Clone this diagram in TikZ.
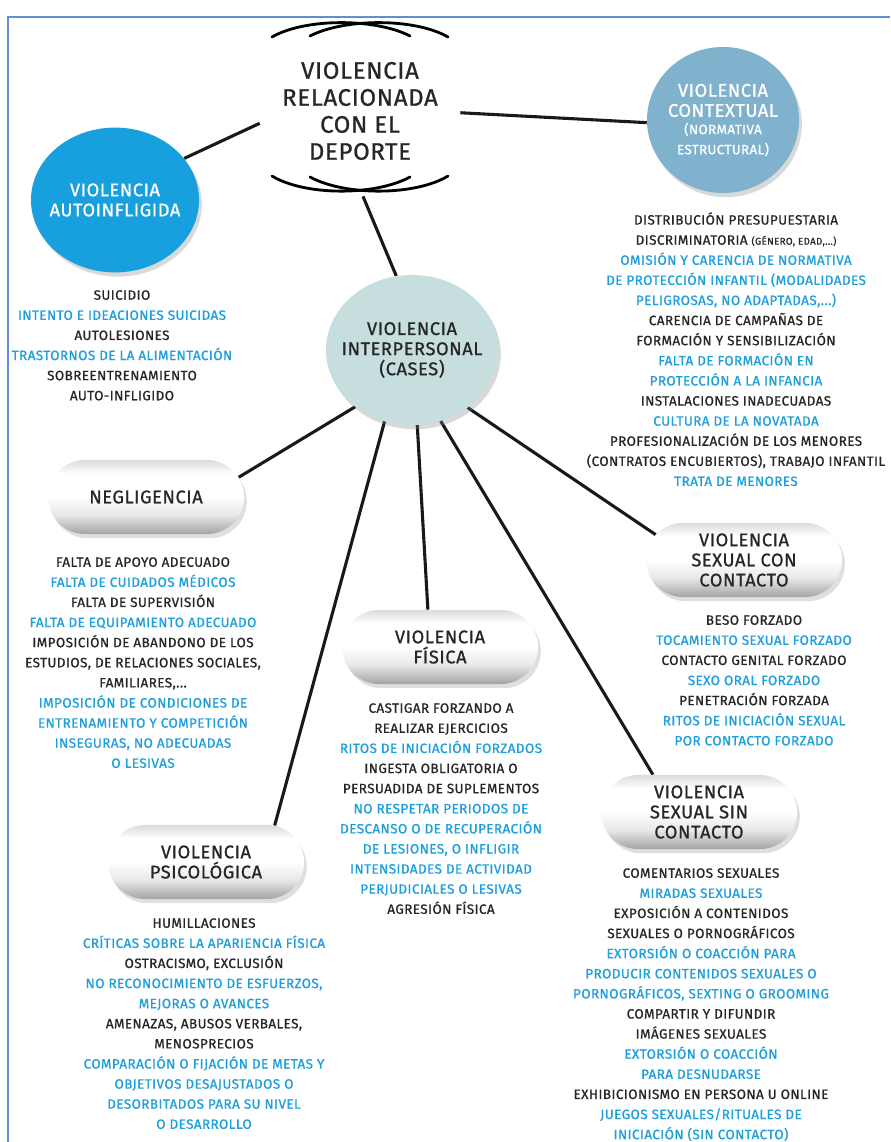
\documentclass[tikz,border=0pt]{standalone}
\usepackage{fontspec}
\setmainfont{Fira Sans}[LetterSpace=3, FakeBold=0.9]
\usepackage{tikz}
\usetikzlibrary{positioning, shapes.geometric, shapes.misc, shadows, calc}
\pgfdeclarelayer{background}
\pgfsetlayers{background,main}
\definecolor{tinta}{RGB}{38,38,38}
\definecolor{azul}{RGB}{30,158,218}
\definecolor{autoazul}{RGB}{24,160,222}
\definecolor{ctxazul}{RGB}{128,178,206}
\definecolor{intergris}{RGB}{198,222,222}
\definecolor{marco}{RGB}{98,142,214}
\newcommand{\az}[1]{\textcolor{azul}{#1}}
\pgfdeclareverticalshading{pildora}{100bp}{color(0bp)=(black!42); color(25bp)=(black!36); color(38bp)=(black!9); color(50bp)=(white); color(66bp)=(white); color(75bp)=(black!14); color(100bp)=(black!14)}
\tikzset{
    pill/.style={rounded rectangle, shading=pildora, minimum width=4.9cm, minimum height=1.85cm,
      inner sep=0pt, align=center, text=tinta, font=\fontsize{13}{14.3}\selectfont,
      drop shadow={shadow xshift=2pt, shadow yshift=-3pt, opacity=0.25}},
    elip/.style={ellipse, inner xsep=-1cm, inner ysep=0pt, align=center, font=\fontsize{13}{14.3}\selectfont,
      drop shadow={shadow xshift=2pt, shadow yshift=-3pt, opacity=0.3}},
    lista/.style={anchor=north, inner sep=0pt, align=center, text=tinta, font=\fontsize{9.6}{14.3}\selectfont},
    enlace/.style={line width=2.2pt, black!90},
    adorno/.style={line width=2pt, line cap=round},
}

\begin{document}
\begin{tikzpicture}[x=0.025cm, y=-0.025cm]
    \useasboundingbox (0,0) rectangle (890,1142);
    \draw[marco, line width=1.2pt] (8,1142) -- (8,17) -- (890,17);

    % cabecera
    \node[minimum width=5cm, minimum height=4.25cm, align=center, text=tinta,
      font=\fontsize{17}{19.2}\selectfont] (tit) at (360,111) {VIOLENCIA\\RELACIONADA\\CON EL\\DEPORTE};
    \draw[adorno] (272,37) .. controls (305,18) and (375,18) .. (410,36);
    \draw[adorno] (310,36) .. controls (345,18) and (415,18) .. (448,37);
    \draw[adorno] (272,176) .. controls (305,196) and (375,196) .. (410,177);
    \draw[adorno] (310,177) .. controls (345,196) and (415,196) .. (448,176);

    \node[elip, fill=autoazul, text=white, minimum width=4.2cm, minimum height=3.62cm] (auto) at (115,200) {VIOLENCIA\\AUTOINFLIGIDA};
    \node[elip, fill=ctxazul, text=white, minimum width=3.8cm, minimum height=3.65cm] (ctx) at (723,120)
      {VIOLENCIA\\CONTEXTUAL\\[-2pt]\fontsize{9.5}{12.5}\selectfont(NORMATIVA\\\fontsize{9.5}{12.5}\selectfont ESTRUCTURAL)};
    \node[elip, fill=intergris, text=tinta, minimum width=4.3cm, minimum height=3.75cm] (inter) at (412,350) {VIOLENCIA\\INTERPERSONAL\\(CASES)};

    \node[pill] (neg) at (146,497) {NEGLIGENCIA};
    \node[pill] (fis) at (440,647) {VIOLENCIA\\FÍSICA};
    \node[pill] (con) at (744,560) {VIOLENCIA\\SEXUAL CON\\CONTACTO};
    \node[pill] (sin) at (699,812) {VIOLENCIA\\SEXUAL SIN\\CONTACTO};
    \node[pill] (psi) at (206,862) {VIOLENCIA\\PSICOLÓGICA};

    \begin{pgfonlayer}{background}
      \draw (tit.187) edge[enlace] (auto.31);
      \draw (tit.-1) edge[enlace] (ctx.182);
      \draw (tit.-88) edge[enlace] (inter.102);
      \draw (inter.225) edge[enlace] (neg.12);
      \draw (inter.249) edge[enlace] (psi.28);
      \draw (inter.274) edge[enlace] (fis.108);
      \draw (inter.292) edge[enlace] (sin.141);
      \draw (inter.314) edge[enlace] (con.164);
    \end{pgfonlayer}

    \node[lista] (lauto) at (122,290) {SUICIDIO\\\az{INTENTO E IDEACIONES SUICIDAS}\\AUTOLESIONES\\
      \az{TRASTORNOS DE LA ALIMENTACIÓN}\\SOBREENTRENAMIENTO\\AUTO-INFLIGIDO};
    \node[lista] (lctx) at (736,212) {DISTRIBUCIÓN PRESUPUESTARIA\\
      DISCRIMINATORIA {\fontsize{7}{7}\selectfont (GÉNERO, EDAD,...)}\\
      \az{OMISIÓN Y CARENCIA DE NORMATIVA}\\\az{DE PROTECCIÓN INFANTIL (MODALIDADES}\\
      \az{PELIGROSAS, NO ADAPTADAS,...)}\\CARENCIA DE CAMPAÑAS DE\\FORMACIÓN Y SENSIBILIZACIÓN\\
      \az{FALTA DE FORMACIÓN EN}\\\az{PROTECCIÓN A LA INFANCIA}\\INSTALACIONES INADECUADAS\\
      \az{CULTURA DE LA NOVATADA}\\PROFESIONALIZACIÓN DE LOS MENORES\\
      (CONTRATOS ENCUBIERTOS), TRABAJO INFANTIL\\\az{TRATA DE MENORES}};
    \node[lista] (lneg) at (143,557) {FALTA DE APOYO ADECUADO\\\az{FALTA DE CUIDADOS MÉDICOS}\\
      FALTA DE SUPERVISIÓN\\\az{FALTA DE EQUIPAMIENTO ADECUADO}\\IMPOSICIÓN DE ABANDONO DE LOS\\
      ESTUDIOS, DE RELACIONES SOCIALES,\\FAMILIARES,...\\\az{IMPOSICIÓN DE CONDICIONES DE}\\
      \az{ENTRENAMIENTO Y COMPETICIÓN}\\\az{INSEGURAS, NO ADECUADAS}\\\az{O LESIVAS}};
    \node[lista] (lfis) at (441,703) {CASTIGAR FORZANDO A\\REALIZAR EJERCICIOS\\
      \az{RITOS DE INICIACIÓN FORZADOS}\\INGESTA OBLIGATORIA O\\PERSUADIDA DE SUPLEMENTOS\\
      \az{NO RESPETAR PERIODOS DE}\\\az{DESCANSO O DE RECUPERACIÓN}\\\az{DE LESIONES, O INFLIGIR}\\
      \az{INTENSIDADES DE ACTIVIDAD}\\\az{PERJUDICIALES O LESIVAS}\\AGRESIÓN FÍSICA};
    \node[lista] (lcon) at (754,615) {BESO FORZADO\\\az{TOCAMIENTO SEXUAL FORZADO}\\
      CONTACTO GENITAL FORZADO\\\az{SEXO ORAL FORZADO}\\PENETRACIÓN FORZADA\\
      \az{RITOS DE INICIACIÓN SEXUAL}\\\az{POR CONTACTO FORZADO}};
    \node[lista] (lsin) at (701,868) {COMENTARIOS SEXUALES\\\az{MIRADAS SEXUALES}\\
      EXPOSICIÓN A CONTENIDOS\\SEXUALES O PORNOGRÁFICOS\\\az{EXTORSIÓN O COACCIÓN PARA}\\
      \az{PRODUCIR CONTENIDOS SEXUALES O}\\\az{PORNOGRÁFICOS, SEXTING O GROOMING}\\
      COMPARTIR Y DIFUNDIR\\IMÁGENES SEXUALES\\\az{EXTORSIÓN O COACCIÓN}\\\az{PARA DESNUDARSE}\\
      EXHIBICIONISMO EN PERSONA U ONLINE\\\az{JUEGOS SEXUALES/RITUALES DE}\\\az{INICIACIÓN (SIN CONTACTO)}};
    \node[lista] (lpsi) at (204,918) {HUMILLACIONES\\\az{CRÍTICAS SOBRE LA APARIENCIA FÍSICA}\\
      OSTRACISMO, EXCLUSIÓN\\\az{NO RECONOCIMIENTO DE ESFUERZOS,}\\\az{MEJORAS O AVANCES}\\
      AMENAZAS, ABUSOS VERBALES,\\MENOSPRECIOS\\\az{COMPARACIÓN O FIJACIÓN DE METAS Y}\\
      \az{OBJETIVOS DESAJUSTADOS O}\\\az{DESORBITADOS PARA SU NIVEL}\\\az{O DESARROLLO}};
\end{tikzpicture}
\end{document}
